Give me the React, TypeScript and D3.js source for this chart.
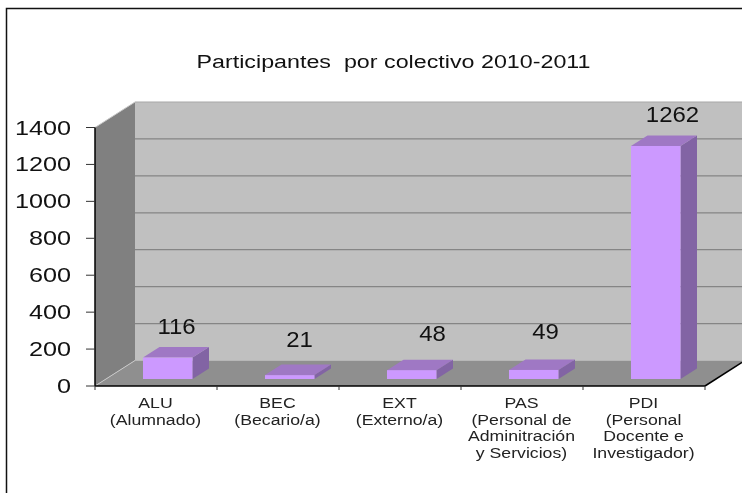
import React from "react";
import * as d3 from "d3";

const categories = ["ALU", "BEC", "EXT", "PAS", "PDI"];
const descriptions = [
  ["(Alumnado)"],
  ["(Becario/a)"],
  ["(Externo/a)"],
  ["(Personal de", "Adminitración", "y Servicios)"],
  ["(Personal", "Docente e", "Investigador)"],
];
const values = [116, 21, 48, 49, 1262];
const labelXs = [176.5, 299.5, 432.5, 545.5, 672.5];
const labelYs = [333.5, 346.5, 341, 339, 122];
const ticks = [0, 200, 400, 600, 800, 1000, 1200, 1400];
const title = "Participantes  por colectivo 2010-2011";

const font = "Liberation Sans, Arial, sans-serif";
const W = 742, H = 493;
const DX = 40, DY = -25.5;
const x = d3.scaleBand<string>().domain(categories).range([95, 705]);
const y = d3.scaleLinear().domain([0, 1400]).range([386, 127.5]);
const barW = 49.5, barOff = 48, bdx = 16.5, bdy = -10.5, barLift = 7;

const pts = (p: [number, number][]) => p.map((d) => d.join(",")).join(" ");

export default function App() {
  const x0 = x.range()[0], x1 = x.range()[1];
  return (
    <svg width={W} height={H} style={{ position: "absolute", left: 0, top: 0, background: "#fff", filter: "blur(0.35px)" }}>
      <rect x={6.5} y={8.5} width={W + 20} height={H + 20} fill="#fff" stroke="#111" strokeWidth={1.5} />
      <text transform="translate(393.5,68) scale(1.225,1)" textAnchor="middle" fontFamily={font} fontSize={19} fill="#111" style={{ whiteSpace: "pre" }}>{title}</text>

      <polygon points={pts([[x0 + DX, y(1400) + DY], [W + 5, y(1400) + DY], [W + 5, y(0) + DY], [x0 + DX, y(0) + DY]])} fill="#c0c0c0" />
      <line x1={x0 + DX} x2={W} y1={y(1400) + DY} y2={y(1400) + DY} stroke="#a8a8a8" strokeWidth={1.2} />
      <polygon points={pts([[x0, y(1400)], [x0 + DX, y(1400) + DY], [x0 + DX, y(0) + DY], [x0, y(0)]])} fill="#808080" />
      <polygon points={pts([[x0, y(0)], [x1, y(0)], [x1 + DX, y(0) + DY], [x0 + DX, y(0) + DY]])} fill="#8f8f8f" />
      <line x1={x0} y1={y(1400)} x2={x0 + DX} y2={y(1400) + DY} stroke="#c8c8c8" />
      <line x1={x0} y1={y(0)} x2={x0 + DX} y2={y(0) + DY} stroke="#c8c8c8" />

      {ticks.slice(1, -1).map((t) => (
        <line key={t} x1={x0 + DX} x2={W} y1={y(t) + DY} y2={y(t) + DY} stroke="#858585" strokeWidth={1.2} />
      ))}

      {values.map((v, i) => {
        const bx = x(categories[i])! + barOff;
        const by = y(0) - barLift;
        const top = by - (y(0) - y(v));
        return (
          <g key={categories[i]}>
            <polygon points={pts([[bx + barW, top], [bx + barW + bdx, top + bdy], [bx + barW + bdx, by + bdy], [bx + barW, by]])} fill="#8264a4" />
            <polygon points={pts([[bx, top], [bx + barW, top], [bx + barW + bdx, top + bdy], [bx + bdx, top + bdy]])} fill="#9f78c4" />
            <rect x={bx} y={top} width={barW} height={by - top} fill="#cc99ff" />
          </g>
        );
      })}

      <line x1={x0} x2={x0} y1={y(1400)} y2={y(0)} stroke="#000" strokeWidth={1.5} />
      <line x1={x0} x2={x1} y1={y(0)} y2={y(0)} stroke="#000" strokeWidth={1.5} />
      <line x1={x1} y1={y(0)} x2={W} y2={y(0) - (W - x1) * 25.5 / 40} stroke="#000" strokeWidth={1.5} />
      {ticks.map((t) => (
        <g key={t}>
          <line x1={x0 - 9} x2={x0} y1={y(t)} y2={y(t)} stroke="#333" />
          <text transform={`translate(71,${y(t) + 7}) scale(1.23,1)`} textAnchor="end" fontFamily={font} fontSize={20.5} fill="#111">{t}</text>
        </g>
      ))}
      {[...categories.map((c) => x(c)!), x1].map((t, i) => (
        <line key={i} x1={t} x2={t} y1={y(0)} y2={y(0) + 4} stroke="#333" />
      ))}

      {values.map((v, i) => (
        <text key={i} transform={`translate(${labelXs[i]},${labelYs[i]}) scale(1.09,1)`} textAnchor="middle" fontFamily={font} fontSize={22} fill="#111">{v}</text>
      ))}

      {categories.map((c, i) => {
        const cx = x(c)! + x.bandwidth() / 2 - 0.5;
        return [c, ...descriptions[i]].map((l, j) => (
          <text key={c + j} transform={`translate(${cx},${408 + j * 16.6}) scale(1.22,1)`} textAnchor="middle" fontFamily={font} fontSize={14.5} fill="#222">{l}</text>
        ));
      })}
    </svg>
  );
}
